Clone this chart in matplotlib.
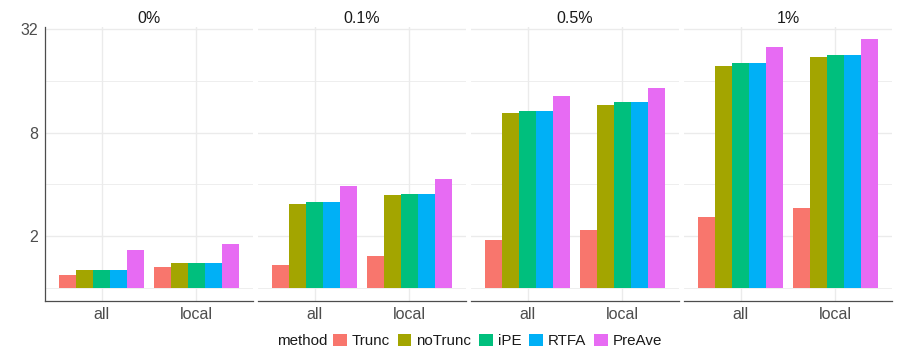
import numpy as np
import matplotlib
matplotlib.use("Agg")
import matplotlib.pyplot as plt
from matplotlib.patches import Patch

plt.rcParams['font.family'] = ['Liberation Sans', 'DejaVu Sans']

# data
panels = ["0%", "0.1%", "0.5%", "1%"]
groups = ["all", "local"]
methods = ["Trunc", "noTrunc", "iPE", "RTFA", "PreAve"]
colors = ["#F8766D", "#A3A500", "#00BF7D", "#00B0F6", "#E76BF3"]

# values[panel][method] = [all, local]
trunc = [[1.19, 1.32], [1.36, 1.54], [1.91, 2.18], [2.58, 2.93]]
notrunc = [[1.27, 1.40], [3.09, 3.46], [10.4, 11.6], [19.6, 21.9]]
ipe = [[1.27, 1.40], [3.18, 3.54], [10.7, 12.0], [20.3, 22.7]]
rtfa = [[1.27, 1.40], [3.18, 3.54], [10.7, 12.0], [20.3, 22.7]]
preave = [[1.66, 1.81], [3.94, 4.32], [13.1, 14.5], [25.2, 27.8]]
series = [trunc, notrunc, ipe, rtfa, preave]

W, H = 897, 359
fontsize = 11.5
legendFontsize = 10.9
gridColor = "#EBEBEB"
axisColor = "#4D4D4D"

fig = plt.figure(figsize=(W / 100, H / 100), dpi=100)

# y limits like ggplot: 5% expansion on log2 scale
allVals = np.log2([v for s in series for p in s for v in p])
hiLog = allVals.max()
expand = 0.05 * hiLog
ylo, yhi = 2 ** (-expand), 2 ** (hiLog + expand)

panelLefts = [45, 258, 471, 684]
panelWidth = 208
panelTop, panelBottom = 27, 300.5

barWidth = 0.18
offsets = (np.arange(len(methods)) - 2) * barWidth
x = np.arange(len(groups))

for p, name in enumerate(panels):
    ax = fig.add_axes([panelLefts[p] / W, 1 - panelBottom / H,
                       panelWidth / W, (panelBottom - panelTop) / H])
    ax.set_yscale('log', base=2)
    for m in range(len(methods)):
        vals = np.array(series[m][p])
        ax.bar(x + offsets[m], vals - 1, bottom=1, width=barWidth,
               color=colors[m], linewidth=0, zorder=3)
    ax.set_ylim(ylo, yhi)
    ax.set_xlim(-0.6, 1.6)
    ax.set_xticks(x)
    ax.set_xticklabels(groups, fontsize=fontsize, color=axisColor)
    ax.set_yticks([2, 8, 32])
    ax.set_yticks([1, 4, 16], minor=True)
    ax.set_yticklabels(["2", "8", "32"], fontsize=fontsize, color=axisColor)
    ax.yaxis.set_minor_formatter(matplotlib.ticker.NullFormatter())
    ax.tick_params(axis='both', which='both', length=0)
    ax.tick_params(axis='x', pad=5)
    ax.tick_params(axis='y', pad=5)
    ax.grid(True, which='major', color=gridColor, linewidth=1.0, zorder=0)
    ax.grid(True, which='minor', axis='y', color=gridColor, linewidth=0.6, zorder=0)
    ax.set_axisbelow(True)
    for side in ['top', 'right']:
        ax.spines[side].set_visible(False)
    ax.spines['bottom'].set_color(axisColor)
    ax.spines['bottom'].set_linewidth(0.9)
    if p == 0:
        ax.spines['left'].set_color(axisColor)
        ax.spines['left'].set_linewidth(0.9)
    else:
        ax.spines['left'].set_visible(False)
        ax.set_yticklabels([])
    ax.set_title(name, fontsize=fontsize, color="#1A1A1A", pad=3)

# legend at the bottom, title on the left
handles = [Patch(facecolor=c, edgecolor='none') for c in colors]
fig.legend(handles, methods, loc='center left', bbox_to_anchor=(333 / W, 1 - 341 / H),
           ncol=5, frameon=False, fontsize=legendFontsize, handlelength=0.9, handleheight=0.9,
           handletextpad=0.35, columnspacing=0.5, labelcolor="#1A1A1A",
           borderpad=0, borderaxespad=0)
fig.text(327 / W, 1 - 341 / H, "method", ha='right', va='center',
         fontsize=legendFontsize, color="#1A1A1A")

fig.savefig("out.png", dpi=100)
